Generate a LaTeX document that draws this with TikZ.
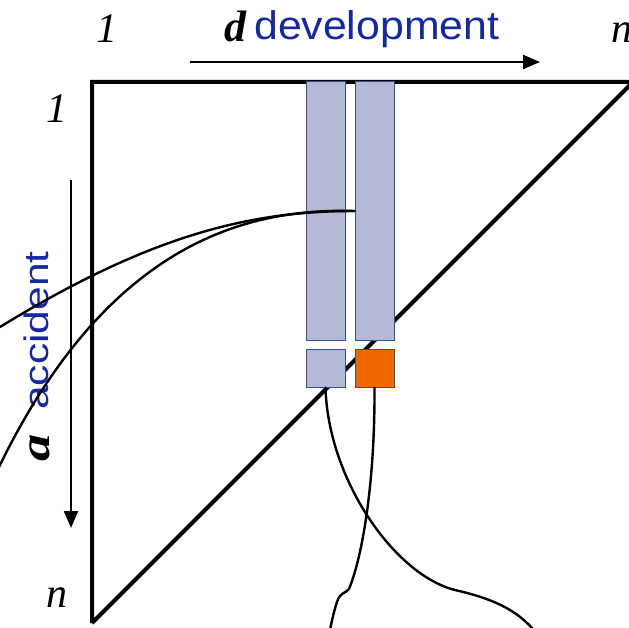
\documentclass[tikz,border=0pt]{standalone}
\usepackage{fontspec}
\setmainfont{Liberation Serif}
\setsansfont{Liberation Sans}
\usetikzlibrary{arrows.meta}
\definecolor{barfill}{RGB}{182,185,214}
\definecolor{barline}{RGB}{47,82,160}
\definecolor{orangefill}{RGB}{240,104,0}
\definecolor{labelblue}{RGB}{20,40,165}
\begin{document}
\begin{tikzpicture}[x=1pt,y=-1pt,
  bar/.style={draw=barline,fill=barfill,line width=1pt,inner sep=0pt,minimum width=39pt},
  hotbar/.style={bar,fill=orangefill},
  frame/.style={line width=4pt,line join=miter},
  axisarrow/.style={line width=2.2pt,-{Triangle[length=17pt,width=14pt]}},
  curve/.style={line width=2.4pt,line cap=round},
  serif/.style={inner sep=0pt,font=\fontsize{42}{50}\selectfont\itshape},
  sans/.style={inner sep=0pt,text=labelblue,font=\sffamily\fontsize{40}{48}\selectfont}]
\useasboundingbox (0,0) rectangle (629,628);
\clip (0,0) rectangle (629,628);
% triangle
\coordinate (tl) at (92,82);
\coordinate (tr) at (633,82);
\coordinate (bl) at (92,623);
\draw[frame] (bl) -- (tl) -- (tr) (bl) -- (tr);
% bars
\node[bar,minimum height=258pt] (c1) at (325.5,211) {};
\node[bar,minimum height=258pt] (c2) at (374.5,211) {};
\node[bar,minimum height=38pt] (s1) at (325.5,368) {};
\node[hotbar,minimum height=38pt] (s2) at (374.5,368) {};
% axis arrows
\coordinate (ts) at (190,62);
\coordinate (te) at (540,62);
\draw[axisarrow] (ts) -- (te);
\coordinate (ls) at (71,180);
\coordinate (le) at (71,528);
\draw[axisarrow] (ls) -- (le);
% labels
\node[serif,anchor=base] (one1) at (107,43) {1};
\node[serif,anchor=base west] (n1) at (611,43) {n};
\node[serif,anchor=base] (one2) at (57,123) {1};
\node[serif,anchor=base] (n2) at (57,607) {n};
\node[serif,anchor=base west,font=\fontsize{44}{50}\selectfont\bfseries\itshape] (dl) at (224,42) {d};
\node[sans,anchor=base west] (dev) at (254,40) {\scalebox{1.07}[1]{development}};
\node[serif,anchor=base west,rotate=90,font=\fontsize{42}{50}\selectfont\bfseries\itshape] (al) at (49,462) {\scalebox{1.3}[1]{a}};
\node[sans,anchor=base west,rotate=90,font=\sffamily\fontsize{34}{40}\selectfont] (acc) at (48,410) {\scalebox{1.25}[1]{accident}};
% curves
\coordinate (ae) at (0,327);
\coordinate (be) at (0,465);
\draw[curve] (c2.west) .. controls (250,211) and (150,235) .. (ae) -- (-15,336);
\draw[curve] (c2.west) .. controls (250,208) and (110,240) .. (be) -- (-4,473);
\coordinate (cm) at (455,590);
\coordinate (ce) at (532,628);
\draw[curve] (s1.south) .. controls (328,480) and (395,575) .. (cm)
  .. controls (485,597) and (512,606) .. (ce) -- (536,633);
\coordinate (dm) at (349,589);
\coordinate (dk) at (337,602);
\coordinate (de) at (330,630);
\draw[curve] (s2.south) .. controls (375,480) and (363,555) .. (dm)
  .. controls (345,594) and (340,592) .. (dk)
  .. controls (334,611) and (332,620) .. (de);
\end{tikzpicture}
\end{document}
